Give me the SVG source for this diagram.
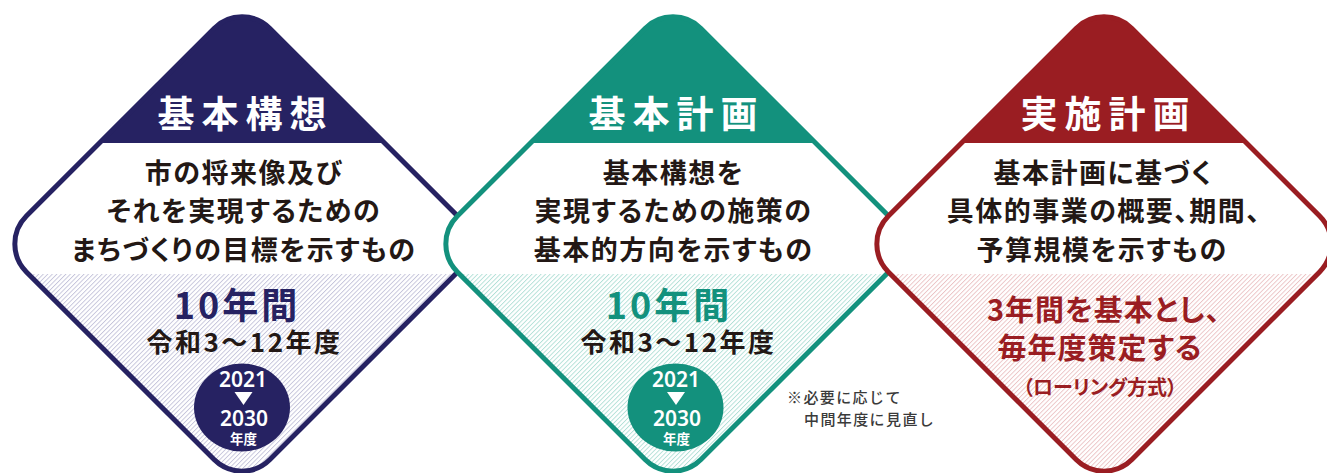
<svg xmlns="http://www.w3.org/2000/svg" width="1327" height="473" viewBox="0 0 1327 473">
<style>
.jp{font-family:"Noto Sans CJK JP","Noto Sans CJK SC",sans-serif;font-weight:700;font-feature-settings:"palt";}
.title{font-size:37px;fill:#fff;letter-spacing:7px;text-anchor:middle;}
.body{font-size:27px;fill:#231815;letter-spacing:1.5px;text-anchor:middle;}
.years{font-size:36px;letter-spacing:3px;text-anchor:middle;}
.reiwa{font-size:26px;fill:#231815;letter-spacing:2.5px;text-anchor:middle;}
.red{font-size:29px;fill:#9a1d22;letter-spacing:1px;text-anchor:middle;}
.num{font-family:"Noto Sans","Open Sans",sans-serif;font-weight:600;font-size:21px;fill:#fff;text-anchor:middle;}
.nendo{font-size:13.5px;fill:#fff;text-anchor:middle;}
.note{font-family:"Noto Sans CJK JP",sans-serif;font-weight:500;font-size:15px;fill:#3a3a3a;letter-spacing:1.4px;}
.frame{fill:none;stroke-width:5;}
</style>
<defs>
<pattern id="h1" width="3.2" height="3.2" patternUnits="userSpaceOnUse" patternTransform="rotate(-45)"><rect width="3.2" height="3.2" fill="#fff"/><rect y="0" width="3.2" height="0.9" fill="#c4c3da"/></pattern>
<pattern id="h2" width="3.2" height="3.2" patternUnits="userSpaceOnUse" patternTransform="rotate(-45)"><rect width="3.2" height="3.2" fill="#fff"/><rect y="0" width="3.2" height="0.9" fill="#b0dfd6"/></pattern>
<pattern id="h3" width="3.2" height="3.2" patternUnits="userSpaceOnUse" patternTransform="rotate(-45)"><rect width="3.2" height="3.2" fill="#fff"/><rect y="0" width="3.2" height="0.9" fill="#ebc2c4"/></pattern>
<clipPath id="c1"><rect x="-172.2" y="-172.2" width="344.4" height="344.4" rx="39.5" transform="translate(242 244) rotate(45)"/></clipPath>
<clipPath id="c2"><rect x="-172.2" y="-172.2" width="344.4" height="344.4" rx="39.5" transform="translate(673 244) rotate(45)"/></clipPath>
<clipPath id="c3"><rect x="-172.2" y="-172.2" width="344.4" height="344.4" rx="39.5" transform="translate(1104 244) rotate(45)"/></clipPath>
</defs>
<rect width="1327" height="473" fill="#fff"/>

<g id="kihon-kousou">
<g clip-path="url(#c1)">
<rect x="0" y="0" width="500" height="473" fill="#fff"/>
<rect x="0" y="0" width="500" height="143" fill="#262262"/>
<rect x="0" y="274" width="500" height="210" fill="url(#h1)"/>
</g>
<rect class="frame" stroke="#262262" x="-172.2" y="-172.2" width="344.4" height="344.4" rx="39.5" transform="translate(242 244) rotate(45)"/>
<text class="jp title" x="245.5" y="127.5">基本構想</text>
<text class="jp body" x="244" y="183">市の将来像及び</text>
<text class="jp body" x="244" y="221">それを実現するための</text>
<text class="jp body" x="244" y="260">まちづくりの目標を示すもの</text>
<text class="jp years" x="237" y="319" fill="#262262">10年間</text>
<text class="jp reiwa" x="244.5" y="352">令和3～12年度</text>
<ellipse cx="242" cy="407.5" rx="48" ry="44" fill="#262262"/>
<text class="num" x="243" y="387">2021</text>
<polygon points="234.5,392 252.5,392 243.5,405" fill="#fff"/>
<text class="num" x="244" y="426">2030</text>
<text class="jp nendo" x="243.5" y="444">年度</text>
</g>

<g id="kihon-keikaku">
<g clip-path="url(#c2)">
<rect x="400" y="0" width="560" height="473" fill="#fff"/>
<rect x="400" y="0" width="560" height="143" fill="#13917d"/>
<rect x="400" y="274" width="560" height="210" fill="url(#h2)"/>
</g>
<rect class="frame" stroke="#13917d" x="-172.2" y="-172.2" width="344.4" height="344.4" rx="39.5" transform="translate(673 244) rotate(45)"/>
<text class="jp title" x="676.5" y="127.5">基本計画</text>
<text class="jp body" x="673.5" y="183">基本構想を</text>
<text class="jp body" x="673.5" y="221">実現するための施策の</text>
<text class="jp body" x="673.5" y="260">基本的方向を示すもの</text>
<text class="jp years" x="669" y="319" fill="#13917d">10年間</text>
<text class="jp reiwa" x="678.5" y="352">令和3～12年度</text>
<ellipse cx="675.5" cy="407.5" rx="48" ry="44" fill="#13917d"/>
<text class="num" x="676" y="387">2021</text>
<polygon points="667,392 685,392 676,405" fill="#fff"/>
<text class="num" x="677" y="426">2030</text>
<text class="jp nendo" x="676.5" y="444">年度</text>
<text class="note" x="787" y="403">※必要に応じて</text>
<text class="note" x="804" y="425">中間年度に見直し</text>
</g>

<g id="jisshi-keikaku">
<g clip-path="url(#c3)">
<rect x="830" y="0" width="560" height="473" fill="#fff"/>
<rect x="830" y="0" width="560" height="143" fill="#9a1d22"/>
<rect x="830" y="274" width="560" height="210" fill="url(#h3)"/>
</g>
<rect class="frame" stroke="#9a1d22" x="-172.2" y="-172.2" width="344.4" height="344.4" rx="39.5" transform="translate(1104 244) rotate(45)"/>
<text class="jp title" x="1108.5" y="127.5">実施計画</text>
<text class="jp body" x="1103" y="183">基本計画に基づく</text>
<text class="jp body" x="1104" y="221">具体的事業の概要、期間、</text>
<text class="jp body" x="1102" y="260">予算規模を示すもの</text>
<text class="jp red" x="1104" y="321">3年間を基本とし、</text>
<text class="jp red" x="1100" y="359">毎年度策定する</text>
<text class="jp red" x="1100" y="395" style="font-size:20px;letter-spacing:0">（ローリング方式）</text>
</g>

<g id="connectors"></g>
</svg>
